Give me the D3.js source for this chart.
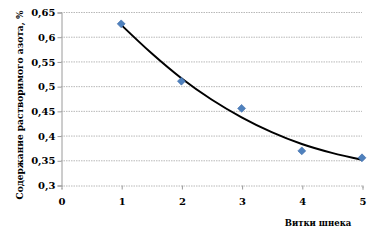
<!DOCTYPE html>
<html>
<head>
<meta charset="utf-8">
<script src="https://cdn.jsdelivr.net/npm/d3@7"></script>
<style>
body { margin: 0; background: #fff; }
</style>
</head>
<body>
<svg></svg>
<script>
// DATA
var turns = [1, 2, 3, 4, 5];
var nitrogen = [0.626, 0.510, 0.455, 0.369, 0.355];
// trend line
var trendX = [1, 1.5, 2, 2.5, 3, 3.5, 4, 4.5, 5];
var trendY = [0.624, 0.567, 0.516, 0.473, 0.437, 0.407, 0.383, 0.365, 0.351];
var xTicks = [0, 1, 2, 3, 4, 5];
var yTicks = [0.3, 0.35, 0.4, 0.45, 0.5, 0.55, 0.6, 0.65];

var width = 377, height = 244;
var margin = { top: 12, right: 15, bottom: 59, left: 61 };
var serif = "'DejaVu Serif', serif";

var svg = d3.select("svg")
    .attr("width", width)
    .attr("height", height);

var x = d3.scaleLinear().domain([0, 5]).range([margin.left, width - margin.right]);
var y = d3.scaleLinear().domain([0.3, 0.65]).range([height - margin.bottom, margin.top]);

var fmt = function (d) { return String(d).replace(".", ","); };

// gridlines
svg.append("g")
    .selectAll("line")
    .data(yTicks.slice(1))
    .enter().append("line")
    .attr("x1", x(0)).attr("x2", x(5))
    .attr("y1", function (d) { return y(d) + 0.5; })
    .attr("y2", function (d) { return y(d) + 0.5; })
    .attr("stroke", "#b8b8b8")
    .attr("stroke-dasharray", "1.5,1");

// y axis
var yAxis = svg.append("g")
    .attr("transform", "translate(" + (x(0) + 0.5) + ",0.5)")
    .call(d3.axisLeft(y).tickValues(yTicks).tickSize(4).tickFormat(fmt))
    .attr("font-family", serif);
yAxis.select(".domain").attr("stroke", "#9a9a9a");
yAxis.selectAll(".tick line").attr("stroke", "#9a9a9a");
yAxis.selectAll(".tick text")
    .attr("x", -6)
    .style("font-family", serif)
    .style("font-weight", "bold")
    .style("font-size", "10px")
    .attr("fill", "#000");

// x axis
var xAxis = svg.append("g")
    .attr("transform", "translate(0.5," + (y(0.3) + 0.5) + ")")
    .call(d3.axisBottom(x).tickValues(xTicks).tickSize(4).tickFormat(d3.format("d")))
    .attr("font-family", serif);
xAxis.select(".domain").attr("stroke", "#b8b8b8").attr("stroke-dasharray", "1.5,1");
xAxis.selectAll(".tick line").attr("stroke", "#9a9a9a");
xAxis.selectAll(".tick text")
    .attr("y", 12)
    .style("font-family", serif)
    .style("font-weight", "bold")
    .style("font-size", "10px")
    .attr("fill", "#000");

// trend line
var trend = trendX.map(function (d, i) { return [d, trendY[i]]; });
svg.append("path")
    .datum(trend)
    .attr("fill", "none")
    .attr("stroke", "#000")
    .attr("stroke-width", 2)
    .attr("d", d3.line()
        .x(function (d) { return x(d[0]); })
        .y(function (d) { return y(d[1]); })
        .curve(d3.curveMonotoneX));

// markers
svg.append("g")
    .selectAll("path")
    .data(turns)
    .enter().append("path")
    .attr("transform", function (d, i) { return "translate(" + x(d) + "," + y(nitrogen[i]) + ")"; })
    .attr("d", d3.symbol().type(d3.symbolDiamond2).size(40))
    .attr("fill", "#4f81bd")
    .attr("stroke", "#3a6aa8")
    .attr("stroke-width", 0.6);

// titles
svg.append("text")
    .attr("transform", "translate(23," + 105 + ") rotate(-90)")
    .attr("text-anchor", "middle")
    .style("font-family", serif)
    .style("font-weight", "bold")
    .style("font-size", "9px")
    .text("Содержание растворимого азота, %");

svg.append("text")
    .attr("x", 318)
    .attr("y", 226)
    .attr("text-anchor", "middle")
    .style("font-family", serif)
    .style("font-weight", "bold")
    .style("font-size", "8.5px")
    .text("Витки шнека");
</script>
</body>
</html>
